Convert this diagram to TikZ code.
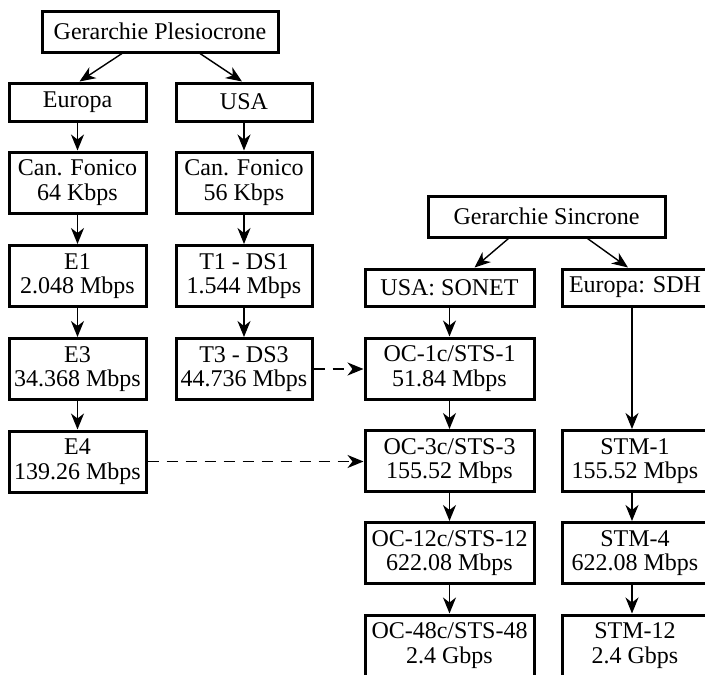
\documentclass[tikz,border=0pt]{standalone}
\usepackage{fontspec}
\setmainfont{Liberation Serif}
\usetikzlibrary{arrows.meta}
\begin{document}
\begin{tikzpicture}[x=1pt,y=-1pt,
  box/.style={draw,line width=3pt,inner sep=0pt,align=center,font=\fontsize{24}{24.5}\selectfont},
  arr/.style={line width=1.4pt,-{Stealth[length=16pt,width=13pt,inset=5pt]}},
  darr/.style={arr,dash pattern=on 11pt off 8pt}]
\useasboundingbox (0,0) rectangle (705,675);
\clip (0,0) rectangle (705,675);
% left part
\node[box,minimum width=236pt,minimum height=41pt] (gp) at (160,31.5) {Gerarchie Plesiocrone};
\node[box,minimum width=137pt,minimum height=38pt] (eur) at (77.5,102) {Europa};
\node[box,minimum width=136pt,minimum height=38pt] (usa) at (244,102) {USA};
\node[box,minimum width=137pt,minimum height=61pt] (cfe) at (77.5,182.5) {Can. Fonico\\64 Kbps};
\node[box,minimum width=136pt,minimum height=61pt] (cfu) at (244,182.5) {Can. Fonico\\56 Kbps};
\node[box,minimum width=137pt,minimum height=61pt] (e1) at (77.5,276) {E1\\2.048 Mbps};
\node[box,minimum width=136pt,minimum height=61pt] (t1) at (244,276) {T1 - DS1\\1.544 Mbps};
\node[box,minimum width=137pt,minimum height=61pt] (e3) at (77.5,369) {E3\\34.368 Mbps};
\node[box,minimum width=136pt,minimum height=61pt] (t3) at (244,369) {T3 - DS3\\44.736 Mbps};
\node[box,minimum width=137pt,minimum height=61pt] (e4) at (77.5,461.5) {E4\\139.26 Mbps};
% right part
\node[box,minimum width=237pt,minimum height=41pt] (gs) at (546.5,216.5) {Gerarchie Sincrone};
\node[box,minimum width=169pt,minimum height=37pt] (son) at (449.5,287.5) {USA: SONET};
\node[box,minimum width=146pt,minimum height=37pt] (sdh) at (635,287.5) {Europa: SDH};
\node[box,minimum width=169pt,minimum height=61pt] (oc1) at (449.5,368.5) {OC-1c/STS-1\\51.84 Mbps};
\node[box,minimum width=169pt,minimum height=61pt] (oc3) at (449.5,461) {OC-3c/STS-3\\155.52 Mbps};
\node[box,minimum width=169pt,minimum height=61pt] (oc12) at (449.5,553) {OC-12c/STS-12\\622.08 Mbps};
\node[box,minimum width=169pt,minimum height=61pt] (oc48) at (449.5,645.5) {OC-48c/STS-48\\2.4 Gbps};
\node[box,minimum width=146pt,minimum height=61pt] (stm1) at (635,461) {STM-1\\155.52 Mbps};
\node[box,minimum width=146pt,minimum height=61pt] (stm4) at (635,553) {STM-4\\622.08 Mbps};
\node[box,minimum width=146pt,minimum height=61pt] (stm12) at (635,645.5) {STM-12\\2.4 Gbps};
% arrows left
\draw[arr] ([xshift=-38pt]gp.south) -- ([xshift=2pt]eur.north);
\draw[arr] ([xshift=40pt]gp.south) -- ([xshift=-2pt]usa.north);
\draw[arr] (eur) -- (cfe);
\draw[arr] (usa) -- (cfu);
\draw[arr] (cfe) -- (e1);
\draw[arr] (cfu) -- (t1);
\draw[arr] (e1) -- (e3);
\draw[arr] (t1) -- (t3);
\draw[arr] (e3) -- (e4);
% arrows right
\draw[arr] ([xshift=-38pt]gs.south) -- ([xshift=25pt]son.north);
\draw[arr] ([xshift=41pt]gs.south) -- ([xshift=-7pt]sdh.north);
\draw[arr] (son) -- (oc1);
\draw[arr] (oc1) -- (oc3);
\draw[arr] (oc3) -- (oc12);
\draw[arr] (oc12) -- (oc48);
\draw[arr] ([xshift=-3pt]sdh.south) -- ([xshift=-3pt]stm1.north);
\draw[arr] ([xshift=-3pt]stm1.south) -- ([xshift=-3pt]stm4.north);
\draw[arr] ([xshift=-3pt]stm4.south) -- ([xshift=-3pt]stm12.north);
% dashed
\draw[darr] (t3.east) -- (t3.east -| oc1.west);
\draw[darr] (e4.east) -- (e4.east -| oc3.west);
\end{tikzpicture}
\end{document}
